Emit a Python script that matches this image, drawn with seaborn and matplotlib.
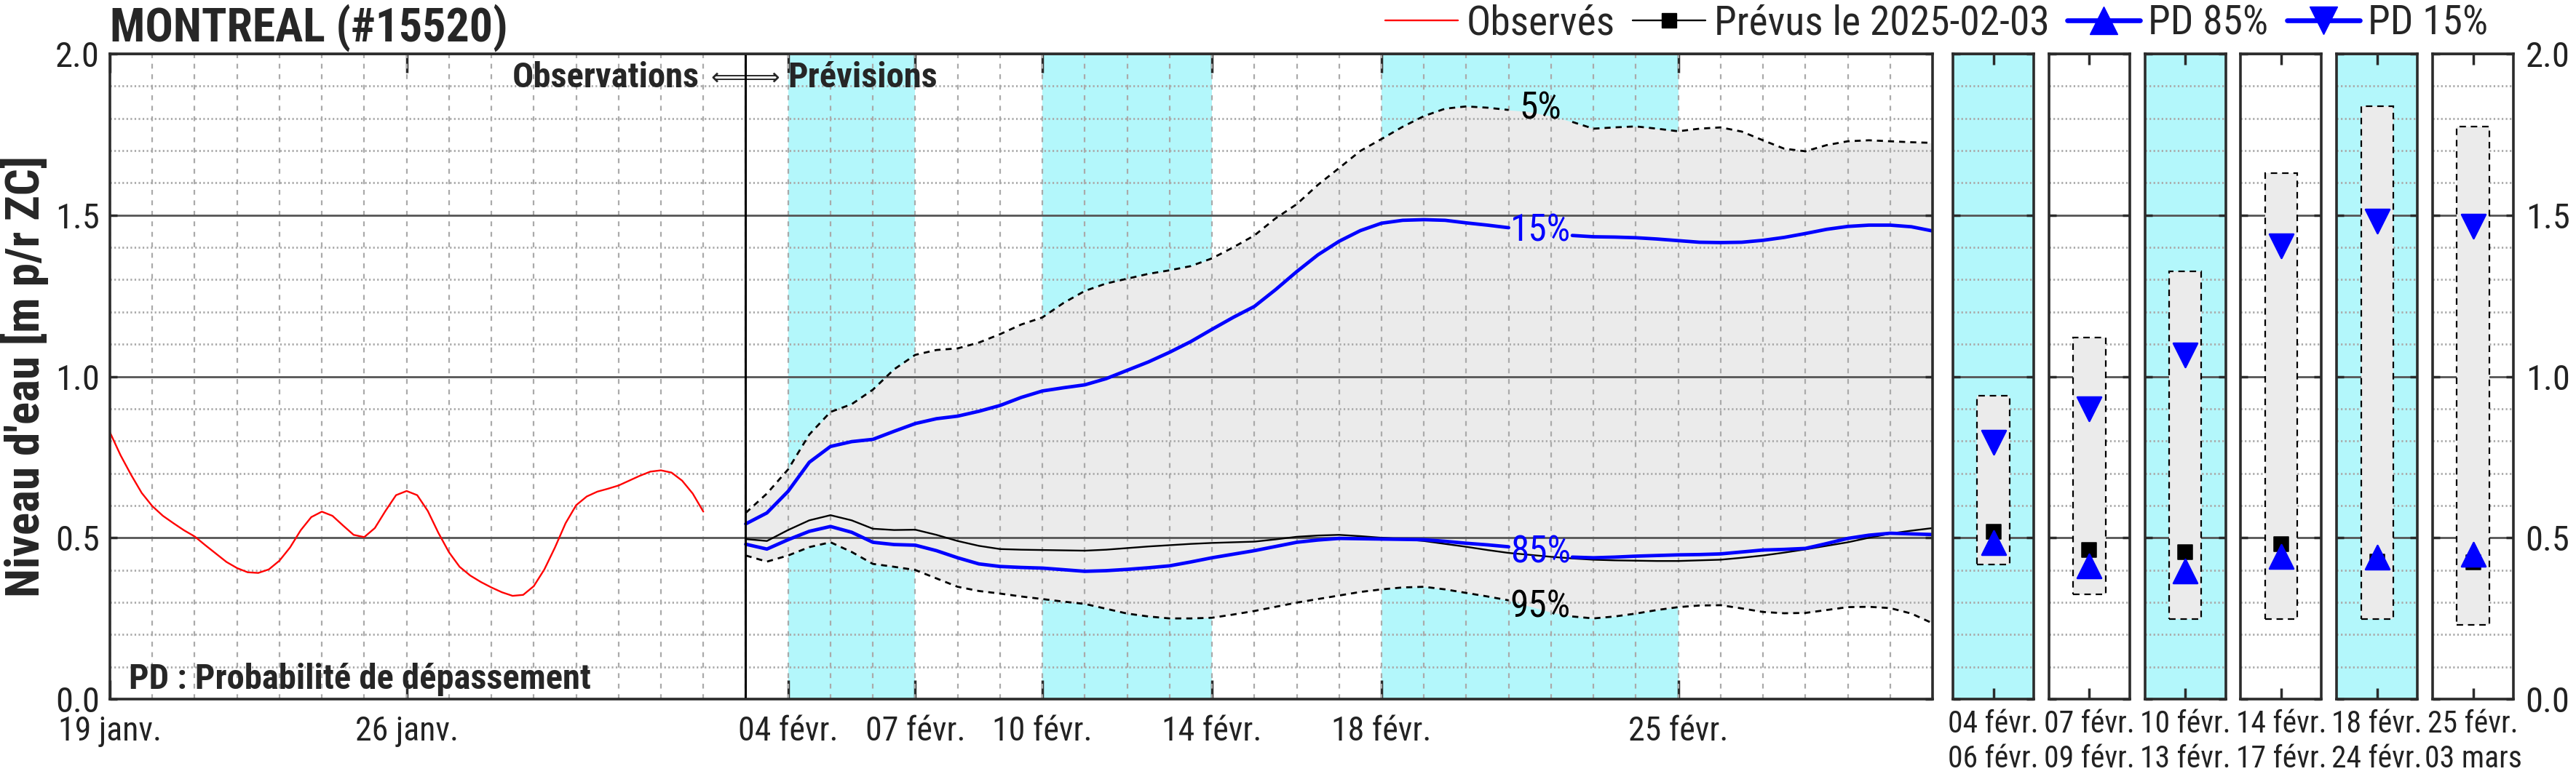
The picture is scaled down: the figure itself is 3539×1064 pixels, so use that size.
import numpy as np
import pandas as pd
import matplotlib
matplotlib.use("Agg")
import matplotlib.pyplot as plt
import matplotlib.dates as mdates
from matplotlib.ticker import MultipleLocator, FixedLocator, NullFormatter, FixedFormatter
from matplotlib.lines import Line2D
from matplotlib import font_manager as fm
import seaborn as sns

# ---------------- data ----------------
start_date = "2025-01-19"
forecast_issue = "2025-02-03"

obs_day = [0.25 * i for i in range(57)]
obs_val = [0.827, 0.756, 0.695, 0.639, 0.598, 0.568, 0.545, 0.523, 0.504, 0.477,
           0.451, 0.425, 0.406, 0.393, 0.391, 0.402, 0.429, 0.470, 0.523, 0.564,
           0.581, 0.568, 0.538, 0.509, 0.502, 0.530, 0.583, 0.632, 0.645, 0.632,
           0.583, 0.515, 0.455, 0.410, 0.383, 0.363, 0.346, 0.331, 0.320, 0.323,
           0.350, 0.402, 0.470, 0.545, 0.601, 0.628, 0.643, 0.652, 0.662, 0.677,
           0.692, 0.705, 0.709, 0.702, 0.677, 0.637, 0.581]

fc_day = [15 + 0.5 * i for i in range(57)]
fc_prevu = [0.496, 0.490, 0.524, 0.554, 0.570, 0.554, 0.528, 0.524, 0.525, 0.509,
            0.490, 0.475, 0.465, 0.463, 0.462, 0.461, 0.460, 0.463, 0.468, 0.473,
            0.477, 0.481, 0.484, 0.486, 0.488, 0.495, 0.503, 0.507, 0.509, 0.505,
            0.500, 0.496, 0.490, 0.481, 0.472, 0.462, 0.453, 0.447, 0.441, 0.436,
            0.432, 0.430, 0.429, 0.428, 0.428, 0.430, 0.432, 0.438, 0.445, 0.454,
            0.464, 0.475, 0.486, 0.500, 0.513, 0.522, 0.530]
fc_pd85 = [0.480, 0.465, 0.494, 0.520, 0.535, 0.517, 0.486, 0.479, 0.477, 0.460,
           0.438, 0.419, 0.411, 0.408, 0.406, 0.401, 0.396, 0.398, 0.402, 0.407,
           0.413, 0.425, 0.438, 0.449, 0.460, 0.473, 0.486, 0.493, 0.498, 0.497,
           0.496, 0.495, 0.494, 0.489, 0.483, 0.478, 0.472, 0.460, 0.445, 0.440,
           0.438, 0.440, 0.443, 0.445, 0.447, 0.448, 0.450, 0.456, 0.462, 0.464,
           0.467, 0.482, 0.498, 0.508, 0.514, 0.512, 0.510]
fc_p95 = [0.445, 0.426, 0.445, 0.471, 0.486, 0.456, 0.419, 0.410, 0.400, 0.374,
          0.348, 0.335, 0.327, 0.318, 0.310, 0.302, 0.295, 0.280, 0.265, 0.256,
          0.250, 0.250, 0.252, 0.262, 0.273, 0.286, 0.299, 0.310, 0.321, 0.332,
          0.340, 0.346, 0.348, 0.340, 0.329, 0.318, 0.306, 0.287, 0.269, 0.256,
          0.250, 0.256, 0.265, 0.276, 0.285, 0.290, 0.291, 0.281, 0.270, 0.266,
          0.267, 0.276, 0.285, 0.286, 0.282, 0.265, 0.235]
fc_p5 = [0.577, 0.637, 0.712, 0.820, 0.890, 0.914, 0.959, 1.022, 1.067, 1.082,
         1.087, 1.105, 1.131, 1.161, 1.183, 1.228, 1.265, 1.288, 1.303, 1.318,
         1.329, 1.342, 1.366, 1.400, 1.437, 1.490, 1.534, 1.594, 1.646, 1.699,
         1.736, 1.774, 1.807, 1.830, 1.837, 1.833, 1.826, 1.820, 1.807, 1.789,
         1.768, 1.772, 1.775, 1.768, 1.760, 1.768, 1.772, 1.759, 1.732, 1.706,
         1.698, 1.717, 1.729, 1.732, 1.729, 1.726, 1.724]
fc_pd15 = [0.543, 0.577, 0.644, 0.734, 0.783, 0.798, 0.805, 0.830, 0.854, 0.869,
           0.877, 0.892, 0.910, 0.935, 0.955, 0.965, 0.974, 0.993, 1.019, 1.045,
           1.075, 1.108, 1.146, 1.183, 1.217, 1.269, 1.325, 1.377, 1.419, 1.452,
           1.475, 1.484, 1.486, 1.484, 1.476, 1.469, 1.461, 1.452, 1.443, 1.437,
           1.433, 1.432, 1.430, 1.426, 1.421, 1.416, 1.415, 1.416, 1.422, 1.431,
           1.443, 1.456, 1.465, 1.469, 1.469, 1.464, 1.451]

periods = [("2025-02-04", "2025-02-07"), ("2025-02-10", "2025-02-14"),
           ("2025-02-18", "2025-02-25")]

main_tick_dates = ["2025-01-19", "2025-01-26", "2025-02-04", "2025-02-07",
                   "2025-02-10", "2025-02-14", "2025-02-18", "2025-02-25"]
main_tick_labels = ["19 janv.", "26 janv.", "04 févr.", "07 févr.",
                    "10 févr.", "14 févr.", "18 févr.", "25 févr."]

panel_from = ["04 févr.", "07 févr.", "10 févr.", "14 févr.", "18 févr.", "25 févr."]
panel_to = ["06 févr.", "09 févr.", "13 févr.", "17 févr.", "24 févr.", "03 mars"]
panel_p95 = [0.418, 0.325, 0.249, 0.249, 0.249, 0.230]
panel_p5 = [0.940, 1.120, 1.326, 1.631, 1.837, 1.775]
panel_prevu = [0.519, 0.463, 0.456, 0.481, 0.427, 0.424]
panel_pd85 = [0.484, 0.413, 0.396, 0.443, 0.439, 0.448]
panel_pd15 = [0.795, 0.900, 1.066, 1.404, 1.481, 1.466]
panel_shaded = [True, False, True, False, True, False]

title = "MONTREAL (#15520)"
ylabel = "Niveau d'eau [m p/r ZC]"

# ---------------- style ----------------
sns.set_theme(style="white")


def pick_font():
    entries = fm.fontManager.ttflist
    names = {f.name for f in entries}
    for c in ["Liberation Sans Narrow", "Arial Narrow", "Roboto Condensed",
              "Noto Sans Condensed", "Open Sans Condensed", "DejaVu Sans Condensed",
              "Nimbus Sans Narrow", "Noto Sans SemiCondensed"]:
        if c in names:
            return c, "normal", True
    for f in entries:
        if ("Narrow" in f.name or "Condensed" in f.name):
            return f.name, "normal", True
    for f in entries:
        st = str(f.stretch)
        if st in ("condensed", "semi-condensed", "extra-condensed"):
            if f.name in ("Noto Sans", "DejaVu Sans", "Open Sans", "Roboto", "Liberation Sans"):
                return f.name, st, True
    return "Liberation Sans", "normal", False


FONT, STRETCH, NARROW = pick_font()
plt.rcParams["font.family"] = [FONT, "DejaVu Sans"]
plt.rcParams["font.stretch"] = STRETCH
plt.rcParams["axes.unicode_minus"] = False

if NARROW:
    FS = dict(ytick=35, xtick=33, title=46, legend=40, panel=30, pct=37, bold=35, ylab=47)
else:
    FS = dict(ytick=30, xtick=27, title=38, legend=32, panel=23, pct=30, bold=27, ylab=34)

CYAN = "#b3f7fb"
GRAYFILL = "#ebebeb"
BLUE = "#0000ff"
SPINE = "#2b2b2b"
GRIDC = "#aaaaaa"

t0 = pd.Timestamp(start_date)
obs_t = t0 + pd.to_timedelta(obs_day, unit="D")
fc_t = t0 + pd.to_timedelta(fc_day, unit="D")
fc_d = np.array(fc_day)

W, H = 3539, 1064
fig = plt.figure(figsize=(W / 100, H / 100), dpi=100)
bottom = 1 - 961 / H
height = (961 - 74) / H
ax = fig.add_axes([151 / W, bottom, (2655 - 151) / W, height])


def style_grid(a):
    a.set_ylim(0, 2)
    a.yaxis.set_major_locator(MultipleLocator(0.5))
    a.yaxis.set_minor_locator(MultipleLocator(0.1))
    a.set_axisbelow("line")
    a.grid(which="major", axis="y", color="#555555", lw=2.0, ls="-", zorder=1.6)
    a.grid(which="minor", axis="y", color=GRIDC, lw=2.0, ls=(0, (0.8, 1.2)), zorder=1.5)
    for s in a.spines.values():
        s.set_color(SPINE)
        s.set_linewidth(2.6)
        s.set_zorder(5)
    a.tick_params(axis="y", which="major", direction="in", left=True, right=True,
                  length=7, width=2.5, color=SPINE)
    a.tick_params(axis="y", which="minor", length=0)
    a.set_facecolor("white")


style_grid(ax)

for s, e in periods:
    ax.axvspan(pd.Timestamp(s), pd.Timestamp(e), color=CYAN, lw=0, zorder=0.2)

ax.fill_between(fc_t, fc_p95, fc_p5, color=GRAYFILL, lw=0, zorder=0.5)

segA = fc_d <= 33.2
segB = fc_d >= 34.3


def split_line(vals, **kw):
    v = np.array(vals)
    for m in (segA, segB):
        sns.lineplot(x=fc_t[m], y=v[m], ax=ax, estimator=None, sort=False,
                     legend=False, **kw)


sns.lineplot(x=obs_t, y=obs_val, ax=ax, color="red", lw=1.7, estimator=None,
             sort=False, legend=False, zorder=3)
split_line(fc_p5, color="black", lw=2.0, ls=(0, (3, 2.5)), zorder=3)
split_line(fc_p95, color="black", lw=2.0, ls=(0, (3, 2.5)), zorder=3)
sns.lineplot(x=fc_t, y=fc_prevu, ax=ax, color="black", lw=1.7, estimator=None,
             sort=False, legend=False, zorder=3)
split_line(fc_pd15, color=BLUE, lw=3.4, zorder=4)
split_line(fc_pd85, color=BLUE, lw=3.4, zorder=4)

ax.axvline(pd.Timestamp(forecast_issue), color="black", lw=2.2, zorder=4)

ax.set_xlim(t0, t0 + pd.Timedelta(days=43))
ax.xaxis.set_major_locator(FixedLocator(mdates.date2num(pd.to_datetime(main_tick_dates))))
ax.xaxis.set_major_formatter(FixedFormatter(main_tick_labels))
ax.xaxis.set_minor_locator(mdates.DayLocator())
ax.xaxis.set_minor_formatter(NullFormatter())
ax.xaxis.remove_overlapping_locs = False
ax.grid(which="minor", axis="x", color=GRIDC, lw=1.6, ls=(0, (3, 3.5)), zorder=1.5)
ax.tick_params(axis="x", which="major", direction="in", top=True, bottom=True,
               length=19, width=2.5, color=SPINE, labelsize=FS["xtick"], pad=16,
               labelcolor="#222222")
ax.tick_params(axis="x", which="minor", length=0)
ax.set_yticks([0, 0.5, 1.0, 1.5, 2.0])
ax.set_yticklabels(["0.0", "0.5", "1.0", "1.5", "2.0"])
ax.tick_params(axis="y", labelsize=FS["ytick"], labelleft=True, labelright=False, pad=10,
               labelcolor="#222222")
ax.set_xlabel("")
ax.set_ylabel("")

lx = t0 + pd.Timedelta(days=33.75)
ax.text(lx, 1.83, "5%", color="black", fontsize=FS["pct"], ha="center", va="center", zorder=6)
ax.text(lx, 1.45, "15%", color=BLUE, fontsize=FS["pct"], ha="center", va="center", zorder=6)
ax.text(lx, 0.455, "85%", color=BLUE, fontsize=FS["pct"], ha="center", va="center", zorder=6)
ax.text(lx, 0.285, "95%", color="black", fontsize=FS["pct"], ha="center", va="center", zorder=6)

fi = pd.Timestamp(forecast_issue)
ax.text(fi - pd.Timedelta(days=1.1), 1.925, "Observations", fontsize=FS["bold"],
        fontweight="bold", ha="right", va="center", zorder=6)
ax.text(fi, 1.925, "\u27F8\u27F9", fontsize=24, ha="center",
        va="center", family=["DejaVu Sans"], zorder=6)
ax.text(fi + pd.Timedelta(days=1.0), 1.925, "Prévisions", fontsize=FS["bold"],
        fontweight="bold", ha="left", va="center", zorder=6)
ax.text(t0 + pd.Timedelta(days=0.45), 0.06, "PD : Probabilité de dépassement",
        fontsize=FS["bold"], fontweight="bold", ha="left", va="center", zorder=6)

fig.text(151 / W, 1 - 57 / H, title, fontsize=FS["title"], fontweight="bold",
         ha="left", va="baseline")
fig.text(34 / W, bottom + height / 2, ylabel, fontsize=FS["ylab"], fontweight="bold",
         rotation=90, ha="center", va="center")

handles = [
    Line2D([], [], color="red", lw=1.7),
    Line2D([], [], color="black", lw=1.7, marker="s", markersize=14),
    Line2D([], [], color=BLUE, lw=4.8, marker="^", markersize=27),
    Line2D([], [], color=BLUE, lw=4.8, marker="v", markersize=27),
]
labels = ["Observés", "Prévus le " + forecast_issue, "PD 85%", "PD 15%"]
fig.legend(handles, labels, loc="center right", bbox_to_anchor=(3440 / W, 1 - 32 / H),
           ncol=4, frameon=False, fontsize=FS["legend"], handlelength=1.8,
           handletextpad=0.2, columnspacing=0.45, borderaxespad=0)

pw = 111 / W
for i in range(6):
    left = (2683 + i * 131.8) / W
    pax = fig.add_axes([left, bottom, pw, height])
    style_grid(pax)
    if panel_shaded[i]:
        pax.set_facecolor(CYAN)
    pax.set_xlim(-0.5, 0.5)
    pax.bar([0], [panel_p5[i] - panel_p95[i]], bottom=[panel_p95[i]], width=0.4,
            color=GRAYFILL, edgecolor="black", linestyle=(0, (4, 3)), linewidth=1.6,
            zorder=2)
    sns.scatterplot(x=[0], y=[panel_prevu[i]], ax=pax, marker="s", s=190,
                    color="black", edgecolor="black", zorder=5, legend=False)
    sns.scatterplot(x=[0], y=[panel_pd85[i]], ax=pax, marker="^", s=560,
                    color=BLUE, edgecolor=BLUE, zorder=6, legend=False)
    sns.scatterplot(x=[0], y=[panel_pd15[i]], ax=pax, marker="v", s=560,
                    color=BLUE, edgecolor=BLUE, zorder=6, legend=False)
    pax.set_xticks([0])
    pax.set_xticklabels([panel_from[i] + "\n" + panel_to[i]], linespacing=1.22)
    pax.tick_params(axis="x", direction="in", top=True, bottom=True, length=11,
                    width=2.5, color=SPINE, labelsize=FS["panel"], pad=10,
                    labelcolor="#222222")
    pax.set_yticks([0, 0.5, 1.0, 1.5, 2.0])
    pax.set_yticklabels(["0.0", "0.5", "1.0", "1.5", "2.0"])
    pax.tick_params(axis="y", labelleft=False, labelright=(i == 5), labelsize=FS["ytick"],
                    pad=12, labelcolor="#222222")
    pax.set_xlabel("")
    pax.set_ylabel("")

fig.savefig("out.png", dpi=100)
